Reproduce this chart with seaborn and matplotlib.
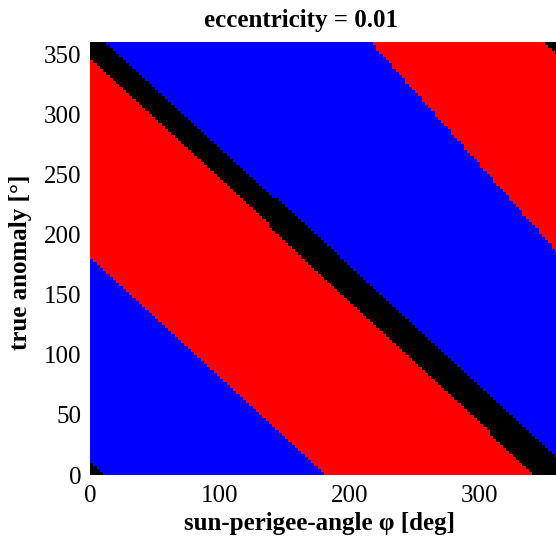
import numpy as np
import pandas as pd
import matplotlib
matplotlib.use("Agg")
import matplotlib.pyplot as plt
import seaborn as sns
from matplotlib.colors import ListedColormap

# ---- data ----
grid_step = 2.5                      # degrees per cell (staircase size)
phi_edges = np.arange(0, 360 + grid_step, grid_step)
nu_edges = np.arange(0, 360 + grid_step, grid_step)

# region boundaries (phi, nu) end points, from lower-left to upper-right
boundary_start = [(0, 11), (0, 180), (0, 347), (11, 360), (216, 360), (349, 360)]
boundary_end = [(10, 0), (180, 0), (342, 0), (360, 15), (360, 184), (360, 350)]
# region colours, crossing the boundaries in order
band_labels = ["black", "blue", "red", "black", "blue", "red", "black"]

class_names = ["black", "blue", "red"]
class_colors = ["#000000", "#0000FF", "#FF0000"]

x_ticks = [0, 100, 200, 300]
y_ticks = [0, 50, 100, 150, 200, 250, 300, 350]

title = "eccentricity = 0.01"
x_label = "sun-perigee-angle φ [deg]"
y_label = "true anomaly [°]"

# ---- build category grid ----
phi_c = (phi_edges[:-1] + phi_edges[1:]) / 2
nu_c = (nu_edges[:-1] + nu_edges[1:]) / 2
PHI, NU = np.meshgrid(phi_c, nu_c)
band = np.zeros_like(PHI, dtype=int)
for (x1, y1), (x2, y2) in zip(boundary_start, boundary_end):
    dx, dy = x2 - x1, y2 - y1
    side = (-dy) * (PHI - x1) + dx * (NU - y1)
    band += (side > 0).astype(int)
codes = np.vectorize(lambda b: class_names.index(band_labels[b]))(band)
df = pd.DataFrame(codes, index=nu_c, columns=phi_c)

# ---- plot ----
W, H = 556, 542
fig = plt.figure(figsize=(W / 100, H / 100), dpi=100)
ax = fig.add_axes([90 / W, 67 / H, 468 / W, 433 / H])
sns.heatmap(df, ax=ax, cmap=ListedColormap(class_colors), vmin=-0.5, vmax=2.5,
            cbar=False, xticklabels=False, yticklabels=False)
ax.invert_yaxis()

ax.set_xticks([t / grid_step for t in x_ticks])
ax.set_xticklabels([str(t) for t in x_ticks])
ax.set_yticks([t / grid_step for t in y_ticks])
ax.set_yticklabels([str(t) for t in y_ticks], rotation=0)
ax.tick_params(length=0, labelsize=18)
ax.tick_params(axis="x", pad=7)
ax.tick_params(axis="y", pad=6)
for lbl in ax.get_xticklabels() + ax.get_yticklabels():
    lbl.set_fontfamily("Liberation Serif")
ax.set_xlabel("")
ax.set_ylabel("")

font = dict(fontsize=18, fontweight="bold", family="Liberation Serif")
fig.text(301 / W, 1 - 27 / H, title, ha="center", va="baseline", **font)
fig.text(320 / W, 1 - 530 / H, x_label, ha="center", va="baseline", **font)
fig.text(21 / W, 1 - 262 / H, y_label, ha="center", va="center", rotation=90, **font)

fig.savefig("out.png", dpi=100)
